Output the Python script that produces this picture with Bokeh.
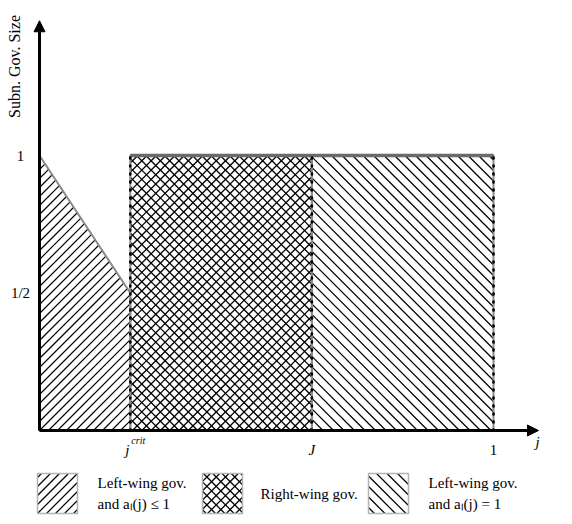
import math
from math import pi
from bokeh.plotting import figure
from bokeh.models import Arrow, NormalHead
from bokeh.core.properties import value
from bokeh.embed import file_html
from bokeh.resources import INLINE

# ---- data ----
j_crit = 0.2          # critical jurisdiction
j_big = 0.6           # J
j_end = 1.0           # last jurisdiction
size_at_zero = 1.0    # subnational gov. size at j = 0
size_at_crit = 0.5    # subnational gov. size at j_crit
size_flat = 1.0       # size for j >= j_crit

left_xs = [0.0, j_crit, j_crit, 0.0]
left_ys = [0.0, 0.0, size_at_crit, size_at_zero]

region_names = ["Left-wing gov.\nand aₗ(j) ≤ 1", "Right-wing gov.", "Left-wing gov.\nand aₗ(j) = 1"]
y_tick_values = [0.5, 1.0]
y_tick_labels = ["1/2", "1"]
x_tick_values = [j_crit, j_big, j_end]
x_tick_labels = ["j", "J", "1"]
x_tick_styles = ["italic", "italic", "normal"]
x_tick_sup = "crit"
y_axis_title = "Subn. Gov. Size"
x_axis_title = "j"

# ---- layout (pixels) ----
W, H = 560, 518
PX_X, PX_Y = 454.0, 275.0
OX, OY = 39.0, 430.0
FONT = value("Liberation Serif")
LEG_BOX_LEFT = [37, 202, 368]
LEG_TEXT_LEFT = [97, 260, 428]
LEG_TOP, LEG_BOX = 473, 40


def px_x(px):
    return (px - OX) / PX_X


def px_y(py):
    return (OY - py) / PX_Y


def hatch(poly_uv, spacing, kind):
    """45-degree hatch lines (in screen space) clipped to a convex CCW polygon
    given in pixel units (u right, v up, relative to the origin)."""
    if kind == "rd":     # v - u = c
        d = (1.0, 1.0)
        cs = [v - u for u, v in poly_uv]
    else:                # u + v = c
        d = (1.0, -1.0)
        cs = [v + u for u, v in poly_uv]
    xs, ys = [], []
    c = math.ceil(min(cs) / spacing) * spacing
    n = len(poly_uv)
    while c <= max(cs):
        p0 = (0.0, c)
        tlo, thi = -1e9, 1e9
        ok = True
        for i in range(n):
            ax, ay = poly_uv[i]
            bx, by = poly_uv[(i + 1) % n]
            nx, ny = -(by - ay), bx - ax
            num = nx * (p0[0] - ax) + ny * (p0[1] - ay)
            den = nx * d[0] + ny * d[1]
            if abs(den) < 1e-12:
                if num < 0:
                    ok = False
                    break
            elif den > 0:
                tlo = max(tlo, -num / den)
            else:
                thi = min(thi, -num / den)
        if ok and thi - tlo > 1e-6:
            xs.append([(p0[0] + tlo * d[0]) / PX_X, (p0[0] + thi * d[0]) / PX_X])
            ys.append([(p0[1] + tlo * d[1]) / PX_Y, (p0[1] + thi * d[1]) / PX_Y])
        c += spacing
    return xs, ys


def to_uv(xs, ys):
    return [(x * PX_X, y * PX_Y) for x, y in zip(xs, ys)]


p = figure(width=W, height=H,
           x_range=(-OX / PX_X, (W - OX) / PX_X),
           y_range=(-(H - OY) / PX_Y, OY / PX_Y),
           x_axis_type=None, y_axis_type=None,
           output_backend="svg", toolbar_location=None,
           min_border=0, outline_line_color=None)
p.grid.visible = False

# axes arrows
p.add_layout(Arrow(end=NormalHead(size=11, fill_color="black", line_color="black"),
                   x_start=0, y_start=0, x_end=0, y_end=1.49, line_width=3, line_color="black"))
p.add_layout(Arrow(end=NormalHead(size=11, fill_color="black", line_color="black"),
                   x_start=0, y_start=0, x_end=1.099, y_end=0, line_width=3, line_color="black"))

# region fills
p.patch(left_xs, left_ys, fill_color="white", line_color=None)
p.quad(left=[j_crit, j_big], right=[j_big, j_end], bottom=[0, 0],
       top=[size_flat, size_flat], fill_color="white", line_color=None)

# region hatching
STYLE = {"rd": (9, 1.2), "xd": (9.3, 1.3), "ld": (10.5, 1.25)}
regions = [
    (left_xs, left_ys, ["rd"], STYLE["rd"]),
    ([j_crit, j_big, j_big, j_crit], [0, 0, size_flat, size_flat], ["rd", "ld"], STYLE["xd"]),
    ([j_big, j_end, j_end, j_big], [0, 0, size_flat, size_flat], ["ld"], STYLE["ld"]),
]
for rx, ry, kinds, (sp, lw) in regions:
    for k in kinds:
        hx, hy = hatch(to_uv(rx, ry), sp, k)
        p.multi_line(hx, hy, line_color="black", line_width=lw)

# region outlines
p.patch(left_xs, left_ys, fill_alpha=0, line_color="#8a8a8a", line_width=2)
p.quad(left=[j_crit, j_big], right=[j_big, j_end], bottom=[0, 0],
       top=[size_flat, size_flat], fill_alpha=0, line_color="#8a8a8a", line_width=2)

# top boundary line
p.line([j_crit, j_end], [size_flat, size_flat], line_width=3.5, line_color="#6a6a6a")

# dotted verticals
p.segment(x0=x_tick_values, y0=[0, 0, 0], x1=x_tick_values,
          y1=[size_flat] * 3, line_color="black", line_width=2.6,
          line_dash="1 7", line_cap="round")

# tick labels
p.text(x=[0, 0], y=y_tick_values, text=y_tick_labels, x_offset=-19,
       text_align="center", text_baseline="middle", text_font=FONT,
       text_font_size="15px", text_color="black")
p.text(x=x_tick_values, y=[0, 0, 0], text=x_tick_labels, y_offset=19,
       x_offset=[-3, 0, 0],
       text_align="center", text_baseline="middle", text_font=FONT,
       text_font_size="15px", text_font_style=x_tick_styles, text_color="black")
p.text(x=[j_crit], y=[0], text=[x_tick_sup], x_offset=1, y_offset=10,
       text_align="left", text_baseline="middle", text_font=FONT,
       text_font_size="10px", text_font_style="italic", text_color="black")

# axis titles
p.text(x=[1.097], y=[0], text=[x_axis_title], y_offset=11, text_align="center",
       text_baseline="middle", text_font=FONT, text_font_size="15px",
       text_font_style="italic", text_color="black")
p.text(x=[0], y=[px_y(66)], text=[y_axis_title], x_offset=-25, angle=pi / 2,
       text_align="center", text_baseline="middle", text_font=FONT,
       text_font_size="16px", text_color="black")

# legend (drawn by hand so that the hatching matches)
leg_kinds = [["rd"], ["rd", "ld"], ["ld"]]
leg_style = [STYLE["rd"], STYLE["xd"], STYLE["ld"]]
for i in range(3):
    bl, bt = LEG_BOX_LEFT[i], LEG_TOP
    bxs = [px_x(bl), px_x(bl + LEG_BOX), px_x(bl + LEG_BOX), px_x(bl)]
    bys = [px_y(bt + LEG_BOX), px_y(bt + LEG_BOX), px_y(bt), px_y(bt)]
    for k in leg_kinds[i]:
        hx, hy = hatch(to_uv(bxs, bys), leg_style[i][0], k)
        p.multi_line(hx, hy, line_color="black", line_width=leg_style[i][1])
    p.patch(bxs, bys, fill_alpha=0, line_color="#b4b4b4", line_width=1.5)
p.text(x=[px_x(t) for t in LEG_TEXT_LEFT], y=[px_y(LEG_TOP + LEG_BOX / 2)] * 3,
       text=region_names, text_align="left", text_baseline="middle",
       text_font=FONT, text_font_size="15px", text_line_height=1.3,
       text_color="black")

open("out.html", "w").write(file_html(p, INLINE))
